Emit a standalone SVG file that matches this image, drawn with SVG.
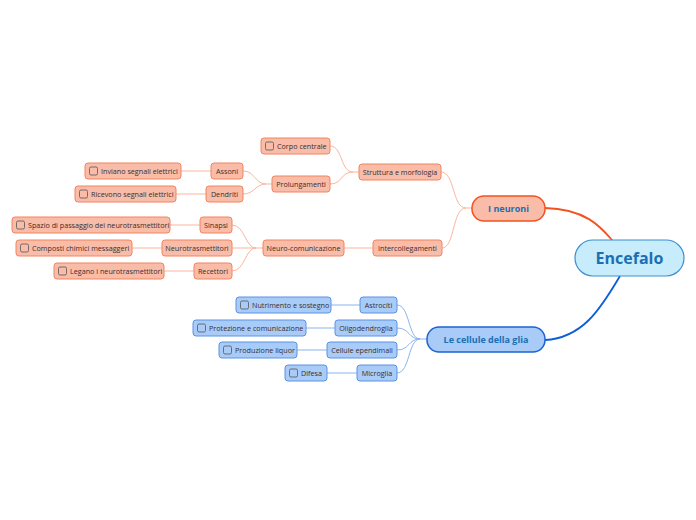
<svg xmlns="http://www.w3.org/2000/svg" width="696" height="520" viewBox="0 0 696 520">
<style>
.o rect.b{fill:#f9bca8;stroke:#f3845f;stroke-width:1}
.u rect.b{fill:#a9cbf8;stroke:#5a93e4;stroke-width:1}
.cb{fill:none;stroke:#555;stroke-width:0.8}
.t{font-family:"Open Sans","Noto Sans",sans-serif;font-size:7.2px;fill:#3a2e2a;text-anchor:middle;dominant-baseline:central}
.tl{font-family:"Open Sans","Noto Sans",sans-serif;font-size:7.2px;fill:#3a2e2a;dominant-baseline:central}
.m{font-family:"Open Sans","Noto Sans",sans-serif;font-weight:bold;fill:#1b6fb3;text-anchor:middle;dominant-baseline:central}
.lo{fill:none;stroke:#fbb59d;stroke-width:1}
.lu{fill:none;stroke:#8ab4ee;stroke-width:1}
</style>
<rect width="696" height="520" fill="#ffffff"/>
<g id="connectors">
<path d="M545,208 C585,209 600,226 612,240" fill="none" stroke="#f4511e" stroke-width="1.8"/>
<path d="M620,276 C600,310 582,338 545,340" fill="none" stroke="#0b5ed7" stroke-width="1.8"/>
<path class="lo" d="M472,208 L466,208 C452,208 455,172 441,172"/>
<path class="lo" d="M466,208 C452,208 455,248 442,248"/>
<path class="lo" d="M359,172 L353,172 C340,172 343,146 330,146"/>
<path class="lo" d="M353,172 C340,172 343,184 330,184"/>
<path class="lo" d="M272,184 L266,184 C255,184 255,171 243,171"/>
<path class="lo" d="M266,184 C255,184 255,194 243,194"/>
<path class="lo" d="M211,171 L181,171"/>
<path class="lo" d="M206,194 L176,194"/>
<path class="lo" d="M373,248 L344,248"/>
<path class="lo" d="M263,248 L256,248 C245,248 245,225 232,225"/>
<path class="lo" d="M256,248 L232,248"/>
<path class="lo" d="M256,248 C245,248 245,271 232,271"/>
<path class="lo" d="M200,225 L170,225"/>
<path class="lo" d="M162,248 L132,248"/>
<path class="lo" d="M194,271 L164,271"/>
<path class="lu" d="M427,339 L420,339 C408,339 410,305 397,305"/>
<path class="lu" d="M420,339 C408,339 410,328 397,328"/>
<path class="lu" d="M420,339 C408,339 410,350 397,350"/>
<path class="lu" d="M420,339 C408,339 410,373 397,373"/>
<path class="lu" d="M360,305 L331,305"/>
<path class="lu" d="M335,328 L306,328"/>
<path class="lu" d="M327,350 L297,350"/>
<path class="lu" d="M357,373 L327,373"/>
</g>
<g id="encefalo">
<rect x="575" y="240" width="109" height="36" rx="18" fill="#c7ecfc" stroke="#3d8fd1" stroke-width="1.2"/>
<text class="m" x="629.5" y="258" font-size="16">Encefalo</text>
</g>
<g id="i-neuroni">
<rect x="472" y="196" width="73" height="25" rx="12" fill="#f9bca8" stroke="#f4511e" stroke-width="1.5"/>
<text class="m" x="508.5" y="208.5" font-size="9">I neuroni</text>
</g>
<g id="glia">
<rect x="427" y="327" width="118" height="25" rx="12" fill="#a8cbf8" stroke="#1c63d3" stroke-width="1.5"/>
<text class="m" x="486" y="339.5" font-size="9">Le cellule della glia</text>
</g>
<g id="struttura" class="o"><rect class="b" x="359" y="164" width="82" height="16" rx="3"/><text class="t" x="400" y="172">Struttura e morfologia</text></g>
<g id="intercollegamenti" class="o"><rect class="b" x="373" y="240" width="69" height="16" rx="3"/><text class="t" x="407.5" y="248">Intercollegamenti</text></g>
<g id="corpo" class="o"><rect class="b" x="261" y="138" width="69" height="16" rx="3"/><rect class="cb" x="265.5" y="142" width="8" height="8" rx="1.5"/><text class="tl" x="277" y="146">Corpo centrale</text></g>
<g id="prolungamenti" class="o"><rect class="b" x="272" y="176" width="58" height="16" rx="3"/><text class="t" x="301" y="184">Prolungamenti</text></g>
<g id="assoni" class="o"><rect class="b" x="211" y="163" width="32" height="16" rx="3"/><text class="t" x="227" y="171">Assoni</text></g>
<g id="dendriti" class="o"><rect class="b" x="206" y="186" width="37" height="16" rx="3"/><text class="t" x="224.5" y="194">Dendriti</text></g>
<g id="inviano" class="o"><rect class="b" x="85" y="163" width="96" height="16" rx="3"/><rect class="cb" x="89.5" y="167" width="8" height="8" rx="1.5"/><text class="tl" x="101" y="171">Inviano segnali elettrici</text></g>
<g id="ricevono" class="o"><rect class="b" x="75" y="186" width="101" height="16" rx="3"/><rect class="cb" x="79.5" y="190" width="8" height="8" rx="1.5"/><text class="tl" x="91" y="194">Ricevono segnali elettrici</text></g>
<g id="neurocom" class="o"><rect class="b" x="263" y="240" width="81" height="16" rx="3"/><text class="t" x="303.5" y="248">Neuro-comunicazione</text></g>
<g id="sinapsi" class="o"><rect class="b" x="200" y="217" width="32" height="16" rx="3"/><text class="t" x="216" y="225">Sinapsi</text></g>
<g id="neurotrasmettitori" class="o"><rect class="b" x="162" y="240" width="70" height="16" rx="3"/><text class="t" x="197" y="248">Neurotrasmettitori</text></g>
<g id="recettori" class="o"><rect class="b" x="194" y="263" width="38" height="16" rx="3"/><text class="t" x="213" y="271">Recettori</text></g>
<g id="spazio" class="o"><rect class="b" x="12" y="217" width="158" height="16" rx="3"/><rect class="cb" x="16.5" y="221" width="8" height="8" rx="1.5"/><text class="tl" x="28" y="225">Spazio di passaggio dei neurotrasmettitori</text></g>
<g id="composti" class="o"><rect class="b" x="16" y="240" width="116" height="16" rx="3"/><rect class="cb" x="20.5" y="244" width="8" height="8" rx="1.5"/><text class="tl" x="32" y="248">Composti chimici messaggeri</text></g>
<g id="legano" class="o"><rect class="b" x="54" y="263" width="110" height="16" rx="3"/><rect class="cb" x="58.5" y="267" width="8" height="8" rx="1.5"/><text class="tl" x="70" y="271">Legano i neurotrasmettitori</text></g>
<g id="astrociti" class="u"><rect class="b" x="360" y="297" width="37" height="16" rx="3"/><text class="t" x="378.5" y="305">Astrociti</text></g>
<g id="oligodendroglia" class="u"><rect class="b" x="335" y="320" width="62" height="16" rx="3"/><text class="t" x="366" y="328">Oligodendroglia</text></g>
<g id="ependimali" class="u"><rect class="b" x="327" y="342" width="70" height="16" rx="3"/><text class="t" x="362" y="350">Cellule ependimali</text></g>
<g id="microglia" class="u"><rect class="b" x="357" y="365" width="40" height="16" rx="3"/><text class="t" x="377" y="373">Microglia</text></g>
<g id="nutrimento" class="u"><rect class="b" x="236" y="297" width="95" height="16" rx="3"/><rect class="cb" x="240.5" y="301" width="8" height="8" rx="1.5"/><text class="tl" x="252" y="305">Nutrimento e sostegno</text></g>
<g id="protezione" class="u"><rect class="b" x="193" y="320" width="113" height="16" rx="3"/><rect class="cb" x="197.5" y="324" width="8" height="8" rx="1.5"/><text class="tl" x="209" y="328">Protezione e comunicazione</text></g>
<g id="produzione" class="u"><rect class="b" x="219" y="342" width="78" height="16" rx="3"/><rect class="cb" x="223.5" y="346" width="8" height="8" rx="1.5"/><text class="tl" x="235" y="350">Produzione liquor</text></g>
<g id="difesa" class="u"><rect class="b" x="285" y="365" width="42" height="16" rx="3"/><rect class="cb" x="289.5" y="369" width="8" height="8" rx="1.5"/><text class="tl" x="301" y="373">Difesa</text></g>
</svg>
